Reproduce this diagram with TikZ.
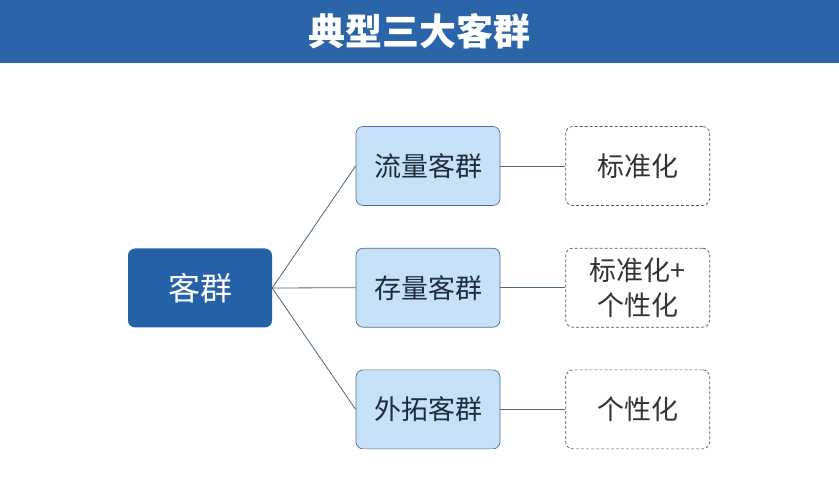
\documentclass[tikz,border=0pt]{standalone}
\usepackage{fontspec}
\setmainfont{Noto Sans CJK SC}
\usepackage{tikz}
\usetikzlibrary{positioning}
\definecolor{barblue}{HTML}{2A64A9}
\definecolor{rootblue}{HTML}{2461A6}
\definecolor{midfill}{HTML}{C6E0F7}
\definecolor{midline}{HTML}{4E6F96}
\definecolor{linkline}{HTML}{4D6680}
\definecolor{textdark}{HTML}{1F2D3D}
\definecolor{dashgray}{HTML}{555555}
\newcommand{\boxwidth}{144pt}
\newcommand{\boxheight}{79pt}
\tikzset{
    auto, node distance = 42pt,
    titlebar/.style = { rectangle, fill=barblue, inner sep=0pt,
        minimum width = 839pt, minimum height = 63pt,
        font=\fontsize{37}{40}\selectfont\bfseries, text=white
    },
    rootbox/.style = { rectangle, fill=rootblue, align=center,
        rounded corners=2.5mm,
        minimum width = \boxwidth, minimum height = \boxheight,
        font=\fontsize{32}{36}\selectfont, text=white
    },
    group/.style = { draw=midline, line width=0.7pt, rectangle, fill=midfill, align=center,
        rounded corners=2.5mm,
        minimum width = \boxwidth, minimum height = \boxheight,
        font=\fontsize{27}{32}\selectfont, text=textdark
    },
    mode/.style = { draw=dashgray, line width=0.7pt, dash pattern=on 3pt off 2pt,
        rectangle, fill=white, align=center,
        rounded corners=2.5mm, inner sep=2pt,
        minimum width = \boxwidth, minimum height = \boxheight,
        font=\fontsize{27}{35}\selectfont, text=black!80
    },
    link/.style = { draw=linkline, line width=0.8pt }
}
\begin{document}
\begin{tikzpicture}
        \useasboundingbox (0pt,0pt) rectangle (839pt,484pt);
        \node[titlebar] (title) at (419.5pt,452.5pt) {典型三大客群};

        % root...
        \node[rootbox] (root) at (200pt,196pt) {客群};
        % groups...
        \node[group] (flow) at (428pt,318pt) {流量客群};
        \node[group] (stock) [below=of flow] {存量客群};
        \node[group] (expand) [below=of stock] {外拓客群};
        % modes...
        \node[mode, node distance=65pt] (std) [right = of flow] {标准化};
        \node[mode, node distance=65pt] (mix) [right = of stock] {标准化+\\个性化};
        \node[mode, node distance=65pt] (pers) [right = of expand] {个性化};

        % links...
        \draw[link] (root.east) -- (flow.west);
        \draw[link] (root.east) -- (stock.west);
        \draw[link] (root.east) -- (expand.west);
        \draw[link] (flow.east) -- (std.west);
        \draw[link] (stock.east) -- (mix.west);
        \draw[link] (expand.east) -- (pers.west);

    \end{tikzpicture}
\end{document}
